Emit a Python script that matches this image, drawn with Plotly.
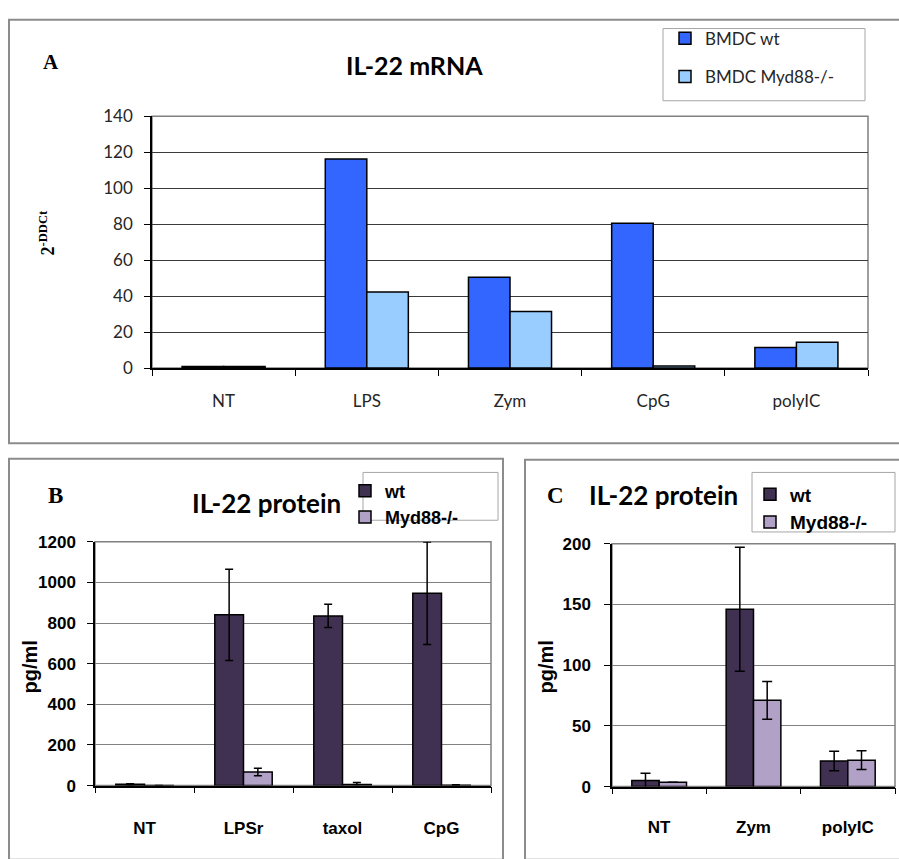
import plotly.graph_objects as go

W, H = 899, 859

def px(x):
    return x / W

def py(y):
    return 1 - y / H

# ---------------- data ----------------
cats_A = ["NT", "LPS", "Zym", "CpG", "polyIC"]
mrna_wt = [0.9, 116.3, 50.5, 80.5, 11.4]
mrna_myd = [0.9, 42.3, 31.5, 1.1, 14.3]

cats_B = ["NT", "LPSr", "taxol", "CpG"]
protB_wt = [6, 840, 835, 946]
protB_wt_err = [3, 225, 57, 252]
protB_myd = [1, 67, 5, 2]
protB_myd_err = [None, 18, 10, 2]

cats_C = ["NT", "Zym", "polyIC"]
protC_wt = [5, 146, 21]
protC_wt_err = [6, 51, 8]
protC_myd = [3.5, 71, 21.7]
protC_myd_err = [None, 15.5, 7.7]

yticks_A = [0, 20, 40, 60, 80, 100, 120, 140]
yticks_B = [0, 200, 400, 600, 800, 1000, 1200]
yticks_C = [0, 50, 100, 150, 200]

# ---------------- styles ----------------
BLUE = "#3366FF"
LBLUE = "#99CCFF"
DPURP = "#403152"
LPURP = "#B2A1C7"
GRAYB = "#808080"
CAL = "Lato"
ARB = "Liberation Sans"
SER = "Liberation Serif"

fig = go.Figure()

line = dict(color="black", width=1.5)

fig.add_trace(go.Bar(x=cats_A, y=mrna_wt, name="BMDC wt", marker=dict(color=BLUE, line=line),
                     xaxis="x", yaxis="y", legend="legend", legendgroup="a1"))
fig.add_trace(go.Bar(x=cats_A, y=mrna_myd, name="BMDC Myd88-/-", marker=dict(color=LBLUE, line=line),
                     xaxis="x", yaxis="y", legend="legend", legendgroup="a2"))

eb = dict(type="data", color="black", thickness=1.5, width=4)
fig.add_trace(go.Bar(x=cats_B, y=protB_wt, name="wt", marker=dict(color=DPURP, line=line),
                     error_y=dict(array=protB_wt_err, **eb),
                     xaxis="x2", yaxis="y2", legend="legend2"))
fig.add_trace(go.Bar(x=cats_B, y=protB_myd, name="Myd88-/-", marker=dict(color=LPURP, line=line),
                     error_y=dict(array=protB_myd_err, **eb),
                     xaxis="x2", yaxis="y2", legend="legend2"))

eb2 = dict(type="data", color="black", thickness=1.5, width=5)
fig.add_trace(go.Bar(x=cats_C, y=protC_wt, name="wt", marker=dict(color=DPURP, line=line),
                     error_y=dict(array=protC_wt_err, **eb2),
                     xaxis="x3", yaxis="y3", legend="legend3", legendgroup="c1"))
fig.add_trace(go.Bar(x=cats_C, y=protC_myd, name="Myd88-/-", marker=dict(color=LPURP, line=line),
                     error_y=dict(array=protC_myd_err, **eb2),
                     xaxis="x3", yaxis="y3", legend="legend3", legendgroup="c2"))

# ---------------- axes ----------------
def xax(domain, anchor, n, font, standoff):
    return dict(domain=domain, anchor=anchor, type="category", range=[-0.5, n - 0.5],
                showline=True, linecolor="black", linewidth=1.5, ticks="outside",
                tickson="boundaries", ticklen=6, tickcolor="black", tickwidth=1,
                showgrid=False, zeroline=False, tickfont=font, ticklabelstandoff=standoff,
                fixedrange=True)

def yax(domain, anchor, rng, tickvals, font, gridcolor, standoff):
    return dict(domain=domain, anchor=anchor, range=rng, tickvals=tickvals,
                showline=True, linecolor="black", linewidth=1.5, ticks="outside",
                ticklen=6, tickcolor="black", tickwidth=1, showgrid=True,
                gridcolor=gridcolor, gridwidth=1, zeroline=False, tickfont=font,
                ticklabelstandoff=standoff, fixedrange=True)

fontA = dict(family=CAL, size=17, color="#262626")
fontBC = dict(family=ARB, size=17, color="black", weight="bold")

layout = dict(
    width=W, height=H, margin=dict(l=0, r=0, t=0, b=0),
    paper_bgcolor="white", plot_bgcolor="white",
    barmode="group", bargap=0.42, bargroupgap=0,
    xaxis=xax([px(152), px(868)], "y", 5, fontA, 17),
    yaxis=yax([py(366), py(108)], "x", [0, 140], yticks_A, fontA, "#3a3a3a", 8),
    xaxis2=xax([px(95), px(491)], "y2", 4, fontBC, 26),
    yaxis2=yax([py(794), py(544)], "x2", [0, 1200], yticks_B, fontBC, GRAYB, 8),
    xaxis3=xax([px(612), px(895)], "y3", 3, fontBC, 24),
    yaxis3=yax([py(795), py(546)], "x3", [0, 200], yticks_C, fontBC, GRAYB, 10),
    legend=dict(x=px(665), y=py(10), xanchor="left", yanchor="top", bgcolor="rgba(0,0,0,0)",
                borderwidth=0, font=dict(family=CAL, size=17, color="#262626"),
                traceorder="grouped", tracegroupgap=13),
    legend2=dict(x=px(345), y=py(473), xanchor="left", yanchor="top", bgcolor="rgba(0,0,0,0)",
                 borderwidth=0, font=dict(family=ARB, size=18, color="black", weight="bold"),
                 traceorder="normal"),
    legend3=dict(x=px(750), y=py(476), xanchor="left", yanchor="top", bgcolor="rgba(0,0,0,0)",
                 borderwidth=0, font=dict(family=ARB, size=19, color="black", weight="bold"),
                 traceorder="grouped", tracegroupgap=0),
)
fig.update_layout(**layout)

# ---------------- shapes ----------------
shapes = []
pbox = dict(type="rect", xref="paper", yref="paper", line=dict(color="#8c8c8c", width=2),
            fillcolor="rgba(0,0,0,0)", layer="below")
shapes.append(dict(pbox, x0=px(9), x1=px(910), y0=py(443), y1=py(9)))
shapes.append(dict(pbox, x0=px(9), x1=px(503), y0=py(870), y1=py(459)))
shapes.append(dict(pbox, x0=px(525), x1=px(910), y0=py(870), y1=py(460)))
for xa, ya in [("x", "y"), ("x2", "y2"), ("x3", "y3")]:
    shapes.append(dict(type="rect", xref=xa + " domain", yref=ya + " domain", x0=0, x1=1, y0=0, y1=1,
                       line=dict(color=GRAYB, width=1.5), fillcolor="rgba(0,0,0,0)", layer="below"))
lbox = dict(type="rect", xref="paper", yref="paper", line=dict(color="#a6a6a6", width=1),
            fillcolor="rgba(0,0,0,0)", layer="below")
shapes.append(dict(lbox, x0=px(663), x1=px(865), y0=py(92), y1=py(18)))
shapes.append(dict(lbox, x0=px(363), x1=px(498), y0=py(522), y1=py(473)))
shapes.append(dict(lbox, x0=px(752), x1=px(895), y0=py(534), y1=py(473)))
fig.update_layout(shapes=shapes)

# ---------------- annotations ----------------
ann = []
def text(x, y, s, font, angle=0):
    ann.append(dict(xref="paper", yref="paper", x=px(x), y=py(y), text=s, showarrow=False,
                    xanchor="center", yanchor="middle", font=font, textangle=angle))

text(51, 52, "<b>A</b>", dict(family=SER, size=21, color="black"))
text(414, 55, "<b>IL-22 mRNA</b>", dict(family=CAL, size=25, color="black"))
text(47, 228, "<b>2<sup>-DDCt</sup></b>", dict(family=SER, size=18, color="black"), -90)

text(55, 497, "<b>B</b>", dict(family=SER, size=23, color="black"))
text(266, 504, "<b>IL-22 protein</b>", dict(family=CAL, size=26, color="black"))
text(30, 673, "<b>pg/ml</b>", dict(family=ARB, size=20, color="black"), -90)

text(555, 497, "<b>C</b>", dict(family=SER, size=23, color="black"))
text(663, 496, "<b>IL-22 protein</b>", dict(family=CAL, size=26, color="black"))
text(546, 673, "<b>pg/ml</b>", dict(family=ARB, size=20, color="black"), -90)
fig.update_layout(annotations=ann)

fig.write_html("out.html")
